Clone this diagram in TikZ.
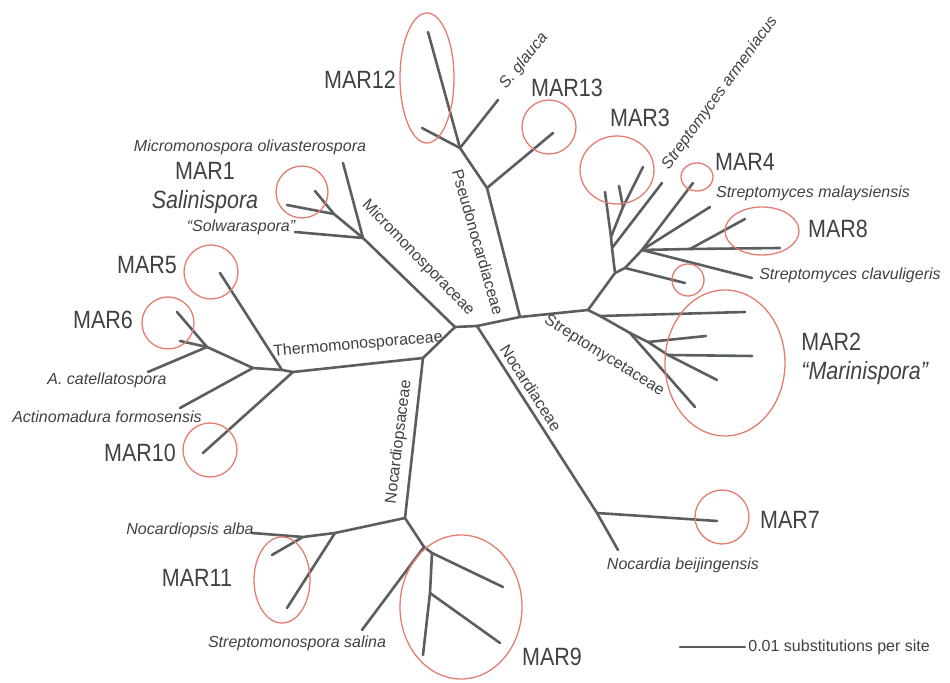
\documentclass[tikz,border=0pt]{standalone}
\usepackage{fontspec}
\setmainfont{Liberation Sans}
\newfontfamily\marfont[FakeStretch=0.86]{Liberation Sans}
\usetikzlibrary{positioning}
\definecolor{stem}{HTML}{5A5E60}
\definecolor{ringred}{HTML}{E27D70}
\definecolor{labelgray}{HTML}{3E4244}

\begin{document}
\begin{tikzpicture}[x=0.5pt,y=-0.5pt,
  branch/.style={draw=stem,line width=1.3pt,line cap=round,line join=round},
  ring/.style={draw=ringred,line width=0.65pt},
  mar/.style={text=labelgray,font=\marfont\fontsize{12.5}{14.5}\selectfont,inner sep=0pt},
  taxon/.style={text=labelgray,font=\fontsize{8}{9.5}\selectfont\itshape,inner sep=0pt},
  family/.style={text=labelgray,font=\fontsize{8}{9.5}\selectfont,inner sep=0pt}
]
\useasboundingbox (0,0) rectangle (950,683);

% backbone
\coordinate (hub) at (455,327);
\coordinate (nocj) at (477,326);
\coordinate (psej) at (520,317);
\coordinate (strj) at (588,310);
\coordinate (thej) at (423,358);
\draw[branch] (hub) -- (nocj) -- (psej) -- (strj);
\draw[branch] (hub) -- (thej);

% Micromonosporaceae
\coordinate (mic) at (363,238);
\coordinate (micolv) at (343,163);
\coordinate (micsol) at (295,232);
\coordinate (mar1n) at (334,214);
\coordinate (mar1a) at (315,191);
\coordinate (mar1b) at (287,205);
\draw[branch] (hub) -- (mic) -- (micolv);
\draw[branch] (mic) -- (micsol);
\draw[branch] (mic) -- (mar1n) -- (mar1a);
\draw[branch] (mar1n) -- (mar1b);

% Pseudonocardiaceae
\coordinate (pse) at (487,188);
\coordinate (mar13t) at (553,133);
\coordinate (pseg) at (460,148);
\coordinate (glauca) at (498,100);
\coordinate (mar12a) at (428,32);
\coordinate (mar12b) at (422,128);
\draw[branch] (psej) -- (pse) -- (mar13t);
\draw[branch] (pse) -- (pseg) -- (mar12a);
\draw[branch] (pseg) -- (glauca);
\draw[branch] (pseg) -- (mar12b);

% Streptomycetaceae
\coordinate (sa) at (600,316);
\coordinate (sb) at (630,333);
\coordinate (sc) at (648,342);
\coordinate (sd) at (668,355);
\coordinate (mar2a) at (745,312);
\coordinate (mar2b) at (706,336);
\coordinate (mar2c) at (752,356);
\coordinate (mar2d) at (717,380);
\coordinate (mar2e) at (695,407);
\draw[branch] (strj) -- (sa) -- (mar2a);
\draw[branch] (sa) -- (sb) -- (mar2e);
\draw[branch] (sb) -- (sc) -- (sd) -- (mar2d);
\draw[branch] (sc) -- (mar2b);
\draw[branch] (sd) -- (mar2c);

\coordinate (su) at (615,273);
\coordinate (su1) at (612,248);
\coordinate (su2) at (611,237);
\coordinate (su3) at (623,207);
\coordinate (armen) at (662,183);
\coordinate (mar3a) at (605,192);
\coordinate (mar3b) at (619,186);
\coordinate (mar3c) at (643,167);
\draw[branch] (strj) -- (su) -- (su1) -- (su2) -- (mar3a);
\draw[branch] (su1) -- (armen);
\draw[branch] (su2) -- (su3) -- (mar3c);
\draw[branch] (su3) -- (mar3b);

\coordinate (sw) at (625,268);
\coordinate (sv) at (642,250);
\coordinate (sv8) at (690,249);
\coordinate (smallt) at (685,283);
\coordinate (mar4t) at (693,183);
\coordinate (malay) at (710,207);
\coordinate (clav) at (752,278);
\coordinate (mar8a) at (745,219);
\coordinate (mar8b) at (780,248);
\draw[branch] (su) -- (sw) -- (smallt);
\draw[branch] (sw) -- (sv) -- (mar4t);
\draw[branch] (sv) -- (malay);
\draw[branch] (sv) -- (clav);
\draw[branch] (sv) -- (sv8) -- (mar8b);
\draw[branch] (sv8) -- (mar8a);

% Thermomonosporaceae
\coordinate (tn) at (293,372);
\coordinate (ta) at (282,370);
\coordinate (tb) at (253,368);
\coordinate (tc) at (207,347);
\coordinate (mar10t) at (203,453);
\coordinate (mar5t) at (220,273);
\coordinate (formo) at (180,408);
\coordinate (catel) at (148,372);
\coordinate (mar6a) at (177,312);
\coordinate (mar6b) at (180,341);
\draw[branch] (thej) -- (tn) -- (mar10t);
\draw[branch] (tn) -- (ta) -- (mar5t);
\draw[branch] (ta) -- (tb) -- (formo);
\draw[branch] (tb) -- (tc) -- (mar6a);
\draw[branch] (tc) -- (catel);
\draw[branch] (tc) -- (mar6b);

% Nocardiopsaceae
\coordinate (np) at (405,518);
\coordinate (npa) at (335,533);
\coordinate (npb) at (303,537);
\coordinate (alba) at (252,533);
\coordinate (mar11a) at (272,555);
\coordinate (mar11b) at (287,608);
\coordinate (n9) at (424,547);
\coordinate (n9a) at (432,553);
\coordinate (n9b) at (430,593);
\coordinate (salina) at (362,630);
\coordinate (mar9a) at (503,587);
\coordinate (mar9b) at (500,643);
\coordinate (mar9c) at (423,655);
\draw[branch] (thej) -- (np) -- (npa) -- (npb) -- (alba);
\draw[branch] (npa) -- (mar11b);
\draw[branch] (npb) -- (mar11a);
\draw[branch] (np) -- (n9) -- (salina);
\draw[branch] (n9) -- (n9a) -- (mar9a);
\draw[branch] (n9a) -- (n9b) -- (mar9c);
\draw[branch] (n9b) -- (mar9b);

% Nocardiaceae
\coordinate (nc) at (597,513);
\coordinate (mar7t) at (717,521);
\coordinate (beij) at (618,550);
\draw[branch] (nocj) -- (nc) -- (beij);
\draw[branch] (nc) -- (mar7t);

% circled clusters
\draw[ring] (427,78) ellipse [x radius=27,y radius=65];
\draw[ring] (549,127) circle [radius=27];
\draw[ring] (617,170) ellipse [x radius=37,y radius=34];
\draw[ring] (697,177) ellipse [x radius=16,y radius=14];
\draw[ring] (762,231) ellipse [x radius=37,y radius=24];
\draw[ring] (688,280) circle [radius=16];
\draw[ring] (725,363) ellipse [x radius=60,y radius=73];
\draw[ring] (722,517) circle [radius=27];
\draw[ring] (461,607) ellipse [x radius=61,y radius=72];
\draw[ring] (282,580) ellipse [x radius=28,y radius=43];
\draw[ring] (210,450) circle [radius=27];
\draw[ring] (168,323) circle [radius=26];
\draw[ring] (211,272) circle [radius=27];
\draw[ring] (302,192) circle [radius=26];

% cluster labels
\node[mar] (lab12) at (360,80) {MAR12};
\node[mar] (lab13) at (567,88) {MAR13};
\node[mar] (lab3) at (640,118) {MAR3};
\node[mar] (lab4) at (745,162) {MAR4};
\node[mar] (lab8) at (838,229) {MAR8};
\node[mar,anchor=west,align=left] (lab2) at (801,359) {MAR2\\\itshape “Marinispora”};
\node[mar] (lab7) at (790,520) {MAR7};
\node[mar] (lab9) at (552,657) {MAR9};
\node[mar] (lab11) at (197,578) {MAR11};
\node[mar] (lab10) at (140,453) {MAR10};
\node[mar] (lab6) at (103,320) {MAR6};
\node[mar] (lab5) at (147,265) {MAR5};
\node[mar,align=center] (lab1) at (205,188) {MAR1\\\itshape Salinispora};

% taxon labels
\node[taxon] (tsol) at (241,227) {“Solwaraspora”};
\node[taxon] (tolv) at (250,147) {Micromonospora olivasterospora};
\node[taxon,rotate=51] (tgla) at (524,61) {S. glauca};
\node[taxon,rotate=54] (tarm) at (720,93) {Streptomyces armeniacus};
\node[taxon] (tmal) at (813,193) {Streptomyces malaysiensis};
\node[taxon] (tcla) at (850,275) {Streptomyces clavuligeris};
\node[taxon] (tbei) at (683,565) {Nocardia beijingensis};
\node[taxon] (talb) at (190,530) {Nocardiopsis alba};
\node[taxon] (tsal) at (297,643) {Streptomonospora salina};
\node[taxon] (tcat) at (107,380) {A. catellatospora};
\node[taxon] (tfor) at (107,417) {Actinomadura formosensis};

% family labels
\node[family,rotate=5] (fthe) at (358,345) {Thermomonosporaceae};
\node[family,rotate=-46] (fmic) at (418,258) {Micromonosporaceae};
\node[family,rotate=-74] (fpse) at (478,242) {Pseudonocardiaceae};
\node[family,rotate=-32] (fstr) at (604,356) {Streptomycetaceae};
\node[family,rotate=-57] (fnoc) at (531,388) {Nocardiaceae};
\node[family,rotate=83] (fnps) at (399,442) {Nocardiopsaceae};

% scale bar
\coordinate (barl) at (680,647);
\coordinate (barr) at (745,647);
\draw[branch] (barl) -- (barr);
\node[family,anchor=west] (barlab) at (748,647) {0.01 substitutions per site};
\end{tikzpicture}
\end{document}
